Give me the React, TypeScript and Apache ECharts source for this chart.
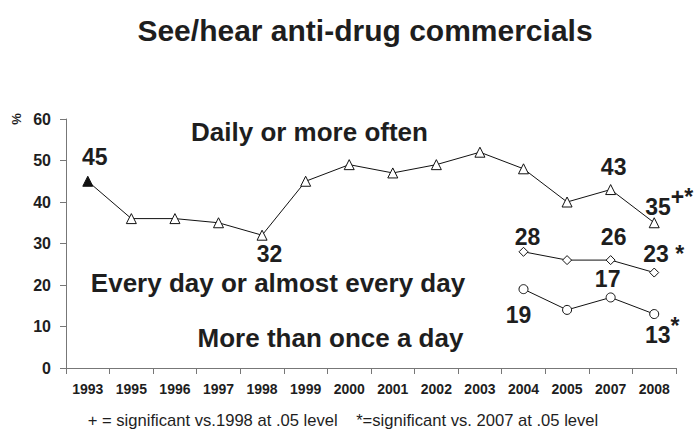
import React, { useEffect, useRef } from "react";
import * as echarts from "echarts";

const categories = ["1993", "1995", "1996", "1997", "1998", "1999", "2000", "2001", "2002", "2003", "2004", "2005", "2007", "2008"];
const dailyOrMore = [45, 36, 36, 35, 32, 45, 49, 47, 49, 52, 48, 40, 43, 35];
const everyDay = [null, null, null, null, null, null, null, null, null, null, 28, 26, 26, 23];
const moreThanOnce = [null, null, null, null, null, null, null, null, null, null, 19, 14, 17, 13];
const seriesNames = ["Daily or more often", "Every day or almost every day", "More than once a day"];
const titleText = "See/hear anti-drug commercials";
const footnote = "+ = significant vs.1998 at .05 level    *=significant vs. 2007 at .05 level";

// label text per point index (formatting only)
const dailyLabelText: Record<number, string> = { 0: "{v|45}", 4: "{v|32}", 12: "{v|43}", 13: "{v|35}{s|+*}" };
const everyLabelText: Record<number, string> = { 10: "{v|28}", 12: "{v|26}", 13: "{v|23 *}" };
const moreLabelText: Record<number, string> = { 10: "{v|19}", 12: "{v|17}", 13: "{v|13}{s|*}" };

// label placement (offsets from point)
const dailyLabelOffset: Record<number, number[]> = { 0: [7, -24], 4: [7.5, 19], 12: [3, -23], 13: [15, -16] };
const everyLabelOffset: Record<number, number[]> = { 10: [4, -15], 12: [3, -23], 13: [9.5, -19] };
const moreLabelOffset: Record<number, number[]> = { 10: [-5, 26], 12: [-3, -18], 13: [8, 21] };

const FONT = "'Liberation Sans', Arial, Helvetica, sans-serif";
const INK = "#1e1e1e";

const rich = {
  v: { fontSize: 23, fontWeight: "bold", fontFamily: FONT, color: INK, lineHeight: 42 },
  s: { fontSize: 23, fontWeight: "bold", fontFamily: FONT, color: INK, lineHeight: 22, verticalAlign: "top" },
};

function buildData(values: (number | null)[], texts: Record<number, string>, offsets: Record<number, number[]>, filledFirst = false) {
  return values.map((v, i) => {
    const item: any = { value: v === null ? "-" : v };
    if (texts[i]) {
      item.label = {
        show: true,
        position: "inside",
        formatter: texts[i],
        offset: offsets[i],
        align: "center",
        verticalAlign: "middle",
        rich,
      };
    }
    if (filledFirst && i === 0) {
      item.itemStyle = { color: "#111", borderColor: "#111" };
    }
    return item;
  });
}

export default function App() {
  const ref = useRef<HTMLDivElement>(null);
  useEffect(() => {
    if (!ref.current) return;
    const chart = echarts.init(ref.current, null, { renderer: "svg" });
    const lineSeries = (name: string, data: any[], symbol: string, size: number | number[]) => ({
      name,
      type: "line",
      data,
      symbol,
      symbolSize: size,
      showAllSymbol: true,
      silent: true,
      lineStyle: { color: "#111", width: 1 },
      itemStyle: { color: "#fff", borderColor: "#111", borderWidth: 1 },
      label: { show: false, color: INK },
      emphasis: { disabled: true },
      z: 3,
    });
    chart.setOption({
      animation: false,
      backgroundColor: "#fff",
      grid: { left: 66, right: 20, top: 119, bottom: 68, containLabel: false },
      xAxis: {
        type: "category",
        data: categories,
        boundaryGap: true,
        axisLine: { lineStyle: { color: "#777", width: 1 } },
        axisTick: { show: true, length: 6, lineStyle: { color: "#777" } },
        axisLabel: { color: INK, fontSize: 14, fontWeight: "bold", fontFamily: FONT, margin: 14, interval: 0 },
        splitLine: { show: false },
      },
      yAxis: {
        type: "value",
        min: 0,
        max: 60,
        interval: 10,
        axisLine: { show: true, lineStyle: { color: "#777", width: 1 } },
        axisTick: { show: true, length: 6, lineStyle: { color: "#777" } },
        axisLabel: { color: INK, fontSize: 16, fontWeight: "bold", fontFamily: FONT, margin: 15 },
        splitLine: { show: false },
      },
      series: [
        lineSeries(seriesNames[0], buildData(dailyOrMore, dailyLabelText, dailyLabelOffset, true), "triangle", 10),
        lineSeries(seriesNames[1], buildData(everyDay, everyLabelText, everyLabelOffset), "diamond", 9),
        lineSeries(seriesNames[2], buildData(moreThanOnce, moreLabelText, moreLabelOffset), "circle", 9),
      ],
      graphic: [
        {
          type: "text", x: 365, y: 30, silent: true,
          style: { text: titleText, font: `bold 30px ${FONT}`, fill: INK, align: "center", verticalAlign: "middle", textAlign: "center", textVerticalAlign: "middle" },
        },
        {
          type: "text", x: 16, y: 119, rotation: Math.PI / 2, silent: true,
          style: { text: "%", font: `bold 13px ${FONT}`, fill: INK, align: "center", verticalAlign: "middle", textAlign: "center", textVerticalAlign: "middle" },
        },
        {
          type: "text", x: 309.5, y: 132, silent: true,
          style: { text: seriesNames[0], font: `bold 26px ${FONT}`, fill: INK, align: "center", verticalAlign: "middle", textAlign: "center", textVerticalAlign: "middle" },
        },
        {
          type: "text", x: 278, y: 283, silent: true,
          style: { text: seriesNames[1], font: `bold 26px ${FONT}`, fill: INK, align: "center", verticalAlign: "middle", textAlign: "center", textVerticalAlign: "middle" },
        },
        {
          type: "text", x: 330.5, y: 337.5, silent: true,
          style: { text: seriesNames[2], font: `bold 26px ${FONT}`, fill: INK, align: "center", verticalAlign: "middle", textAlign: "center", textVerticalAlign: "middle" },
        },
        {
          type: "text", x: 343, y: 420, silent: true,
          style: { text: footnote, font: `16.6px ${FONT}`, fill: INK, align: "center", verticalAlign: "middle", textAlign: "center", textVerticalAlign: "middle" },
        },
      ],
    });
    return () => chart.dispose();
  }, []);
  return (
    <div
      ref={ref}
      style={{ position: "fixed", left: 0, top: 0, width: 696, height: 436, background: "#fff" }}
    />
  );
}
